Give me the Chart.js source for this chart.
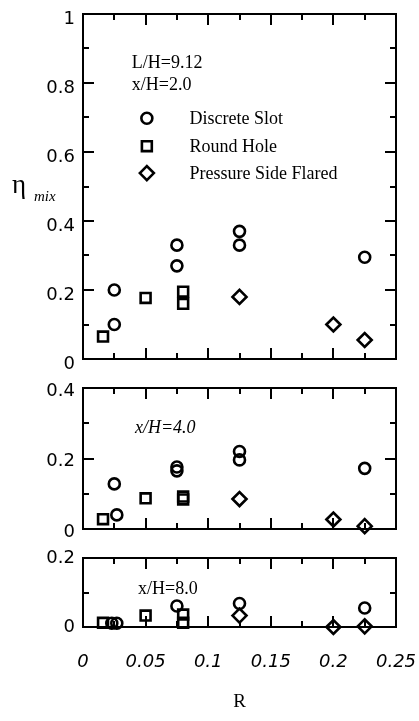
<!DOCTYPE html>
<html>
<head>
<meta charset="utf-8">
<script src="https://cdn.jsdelivr.net/npm/chart.js@4/dist/chart.umd.min.js"></script>
<style>
  html, body { margin: 0; padding: 0; background: #fff; }
  #wrap { position: relative; width: 419px; height: 721px; }
  #wrap canvas { position: absolute; left: 0; top: 0; }
</style>
</head>
<body>
<div id="wrap">
  <canvas id="p1" width="419" height="721"></canvas>
  <canvas id="p2" width="419" height="721"></canvas>
  <canvas id="p3" width="419" height="721"></canvas>
</div>
<script>
// Series names and axis tick labels
const seriesNames = ['Discrete Slot', 'Round Hole', 'Pressure Side Flared'];
const xTickLabels = ['0', '0.05', '0.1', '0.15', '0.2', '0.25'];
const yTickLabels2 = ['0', '0.2', '0.4', '0.6', '0.8', '1'];
const yTickLabels4 = ['0', '0.2', '0.4'];
const yTickLabels8 = ['0', '0.2'];

// x/H = 2.0
const slotR2 = [0.025, 0.025, 0.075, 0.075, 0.125, 0.125, 0.225];
const slotEta2 = [0.20, 0.10, 0.33, 0.27, 0.37, 0.33, 0.295];
const holeR2 = [0.016, 0.05, 0.08, 0.08];
const holeEta2 = [0.065, 0.177, 0.195, 0.16];
const flaredR2 = [0.125, 0.2, 0.225];
const flaredEta2 = [0.18, 0.10, 0.055];

// x/H = 4.0
const slotR4 = [0.025, 0.027, 0.075, 0.075, 0.125, 0.125, 0.225];
const slotEta4 = [0.128, 0.04, 0.176, 0.165, 0.22, 0.196, 0.172];
const holeR4 = [0.016, 0.05, 0.08, 0.08];
const holeEta4 = [0.028, 0.087, 0.092, 0.084];
const flaredR4 = [0.125, 0.2, 0.225];
const flaredEta4 = [0.085, 0.027, 0.008];

// x/H = 8.0
const slotR8 = [0.023, 0.027, 0.075, 0.125, 0.225];
const slotEta8 = [0.011, 0.011, 0.061, 0.068, 0.055];
const holeR8 = [0.016, 0.05, 0.08, 0.08];
const holeEta8 = [0.012, 0.033, 0.036, 0.012];
const flaredR8 = [0.125, 0.2, 0.225];
const flaredEta8 = [0.033, 0.0, 0.002];

const INK = '#000';
const SERIF = '"Liberation Serif", "Times New Roman", serif';
const SANS = '"DejaVu Sans", Verdana, sans-serif';

const markerStyles = [
  { pointStyle: 'circle', radius: 5.5 },
  { pointStyle: 'rect', radius: 7 },
  { pointStyle: 'rectRot', radius: 7 }
];
const MARK_LW = 2.6;

function points(xs, ys) {
  return xs.map((x, i) => ({ x: x, y: ys[i] }));
}

function makeDatasets(groups) {
  return groups.map((g, i) => ({
    label: seriesNames[i],
    data: points(g[0], g[1]),
    pointStyle: markerStyles[i].pointStyle,
    pointRadius: markerStyles[i].radius,
    pointHoverRadius: markerStyles[i].radius,
    pointBorderWidth: MARK_LW,
    pointBorderColor: INK,
    pointBackgroundColor: 'rgba(0,0,0,0)',
    showLine: false,
    clip: false
  }));
}

// Same geometry as Chart.js point styles, used for the in-plot key
function drawMarker(ctx, style, r, x, y) {
  ctx.beginPath();
  if (style === 'circle') {
    ctx.arc(x, y, r, 0, Math.PI * 2);
  } else if (style === 'rect') {
    const s = Math.SQRT1_2 * r;
    ctx.rect(x - s, y - s, 2 * s, 2 * s);
  } else {
    ctx.moveTo(x - r, y);
    ctx.lineTo(x, y - r);
    ctx.lineTo(x + r, y);
    ctx.lineTo(x, y + r);
    ctx.closePath();
  }
  ctx.stroke();
}

// Boxed frame with inward major/minor ticks on all four sides, plus text
const panelDeco = {
  id: 'panelDeco',
  beforeDatasetsDraw(chart, args, opts) {
    const ctx = chart.ctx;
    const a = chart.chartArea;
    const xs = chart.scales.x, ys = chart.scales.y;
    ctx.save();
    ctx.strokeStyle = INK;
    ctx.lineWidth = 2;
    ctx.lineCap = 'butt';
    ctx.strokeRect(a.left, a.top, a.right - a.left, a.bottom - a.top);
    const major = 11, minor = 6;
    // x ticks every 0.025, long every 0.05
    for (let k = 1; k < 10; k++) {
      const px = Math.round(xs.getPixelForValue(k * 0.025));
      const len = (k % 2 === 0) ? major : minor;
      ctx.beginPath();
      ctx.moveTo(px, a.bottom); ctx.lineTo(px, a.bottom - len);
      ctx.moveTo(px, a.top); ctx.lineTo(px, a.top + len);
      ctx.stroke();
    }
    // y ticks every 0.1, long every 0.2
    const n = Math.round(ys.max / 0.1);
    for (let k = 1; k < n; k++) {
      const py = Math.round(ys.getPixelForValue(k * 0.1));
      const len = (k % 2 === 0) ? major : minor;
      ctx.beginPath();
      ctx.moveTo(a.left, py); ctx.lineTo(a.left + len, py);
      ctx.moveTo(a.right, py); ctx.lineTo(a.right - len, py);
      ctx.stroke();
    }
    ctx.restore();
  },
  afterDraw(chart, args, opts) {
    const ctx = chart.ctx;
    const xs = chart.scales.x, ys = chart.scales.y;
    ctx.save();
    ctx.fillStyle = INK;
    ctx.strokeStyle = INK;
    ctx.textBaseline = 'alphabetic';
    ctx.textAlign = 'left';
    (opts.notes || []).forEach(n => {
      ctx.font = n.font;
      ctx.fillText(n.text, xs.getPixelForValue(n.r), ys.getPixelForValue(n.eta));
    });
    if (opts.key) {
      const k = opts.key;
      ctx.lineWidth = MARK_LW;
      chart.data.datasets.forEach((ds, i) => {
        const cy = ys.getPixelForValue(k.etas[i]);
        drawMarker(ctx, ds.pointStyle, ds.pointRadius, xs.getPixelForValue(k.r), cy);
        ctx.font = k.font;
        ctx.fillText(ds.label, xs.getPixelForValue(k.labelR), cy + 6);
      });
    }
    if (opts.yTitle) {
      const t = opts.yTitle;
      ctx.font = '27px ' + SERIF;
      ctx.fillText('\u03B7', t.x, t.y);
      ctx.font = 'italic 15px ' + SERIF;
      ctx.fillText('mix', t.x + 22, t.y + 8);
    }
    ctx.restore();
  }
};

function makePanel(id, groups, yMax, yLabels, top, bottom, showX, deco, labelOffset) {
  const xAxis = {
    type: 'linear',
    min: 0, max: 0.25,
    display: showX,
    grid: { display: false, drawTicks: false },
    border: { display: false },
    ticks: {
      stepSize: 0.05,
      padding: 25,
      color: INK,
      font: { family: SANS, size: 18, style: 'italic' },
      callback: (v, i) => xTickLabels[i]
    },
    title: {
      display: showX,
      text: 'R',
      color: INK,
      font: { family: SERIF, size: 19 },
      padding: { top: 0, bottom: 8 }
    },
    afterFit: s => {
      s.height = showX ? 721 - bottom : 0;
      s.paddingLeft = 0;
      s.paddingRight = 0;
    }
  };
  const yAxis = {
    type: 'linear',
    min: 0, max: yMax,
    grid: { display: false, drawTicks: false },
    border: { display: false },
    ticks: {
      stepSize: 0.2,
      padding: 8,
      labelOffset: labelOffset,
      color: INK,
      font: { family: SANS, size: 18 },
      callback: (v, i) => yLabels[i]
    },
    afterFit: s => {
      s.width = 83;
      s.paddingTop = 0;
      s.paddingBottom = 0;
    }
  };
  return new Chart(document.getElementById(id), {
    type: 'scatter',
    data: { datasets: makeDatasets(groups) },
    options: {
      responsive: false,
      animation: false,
      devicePixelRatio: 1,
      layout: { padding: { left: 0, right: 23, top: top, bottom: showX ? 0 : 721 - bottom } },
      scales: { x: xAxis, y: yAxis },
      plugins: {
        legend: { display: false },
        tooltip: { enabled: false },
        panelDeco: deco
      }
    },
    plugins: [panelDeco]
  });
}

makePanel('p1',
  [[slotR2, slotEta2], [holeR2, holeEta2], [flaredR2, flaredEta2]],
  1, yTickLabels2, 14, 359, false,
  {
    notes: [
      { text: 'L/H=9.12', r: 0.039, eta: 0.843, font: '18px ' + SERIF },
      { text: 'x/H=2.0', r: 0.039, eta: 0.78, font: '18px ' + SERIF }
    ],
    key: { r: 0.051, labelR: 0.085, etas: [0.698, 0.617, 0.539], font: '18px ' + SERIF },
    yTitle: { x: 12, y: 193 }
  }, 5);

makePanel('p2',
  [[slotR4, slotEta4], [holeR4, holeEta4], [flaredR4, flaredEta4]],
  0.4, yTickLabels4, 388, 529, false,
  { notes: [{ text: 'x/H=4.0', r: 0.0415, eta: 0.273, font: 'italic 18px ' + SERIF }] }, 3);

makePanel('p3',
  [[slotR8, slotEta8], [holeR8, holeEta8], [flaredR8, flaredEta8]],
  0.2, yTickLabels8, 558, 627, true,
  { notes: [{ text: 'x/H=8.0', r: 0.044, eta: 0.096, font: '18px ' + SERIF }] }, 0);
</script>
</body>
</html>
